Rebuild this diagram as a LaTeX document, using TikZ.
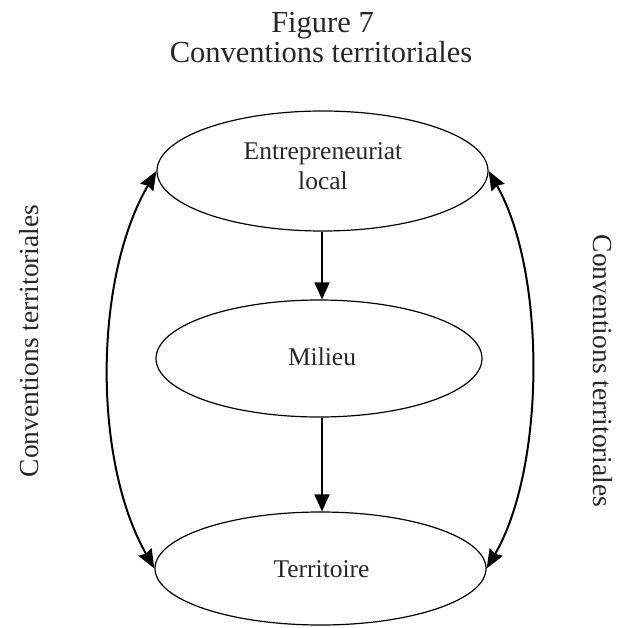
\documentclass[tikz,border=0pt]{standalone}
\usepackage{fontspec}
\setmainfont{Liberation Serif}
\usetikzlibrary{shapes.geometric,arrows.meta}

\tikzset{
  oval/.style={draw, ellipse, line width=1.2pt, inner sep=0pt},
  label/.style={anchor=base, inner sep=0pt, text=black!85, font=\fontsize{25.5}{30}\selectfont},
  heading/.style={anchor=base, inner sep=0pt, text=black!85, font=\fontsize{30.5}{36}\selectfont},
  sidelabel/.style={anchor=base, inner sep=0pt, text=black!85, font=\fontsize{27.5}{32}\selectfont},
  flow/.style={line width=1.6pt, -{Triangle[length=17pt,width=15pt]}},
  loop/.style={line width=2pt,
    {Stealth[length=19pt,width=15pt,inset=2pt]}-{Stealth[length=19pt,width=15pt,inset=2pt]}}
}

\begin{document}
\begin{tikzpicture}[x=1pt,y=-1pt]
  \useasboundingbox (0,0) rectangle (626,628);

  % heading
  \node[heading] (fig) at (322.5,33) {Figure 7};
  \node[heading] (title) at (321,63) {Conventions territoriales};

  % the three levels
  \node[oval, minimum width=331pt, minimum height=120pt] (entre) at (322.5,171) {};
  \node[oval, minimum width=326pt, minimum height=117pt] (milieu) at (319,358.5) {};
  \node[oval, minimum width=331pt, minimum height=113pt] (terr) at (320.5,568.5) {};

  \node[label] (t1a) at (323,160) {Entrepreneuriat};
  \node[label] (t1b) at (323,190) {local};
  \node[label] (t2) at (322,365) {Milieu};
  \node[label] (t3) at (321.5,577) {Territoire};

  % downward links
  \coordinate (a1) at (322,0);
  \draw[flow] (entre.south -| a1) -- (milieu.north -| a1);
  \draw[flow] (milieu.south -| a1) -- (terr.north -| a1);

  % two-way side links
  \draw[loop] (entre.west) to[bend right=30, looseness=0.8] (terr.west);
  \draw[loop] (entre.east) to[bend left=30, looseness=0.75] (terr.east);

  % side captions
  \node[sidelabel, rotate=90] (sl) at (38,341) {Conventions territoriales};
  \node[sidelabel, rotate=-90] (sr) at (593,371) {Conventions territoriales};
\end{tikzpicture}
\end{document}
